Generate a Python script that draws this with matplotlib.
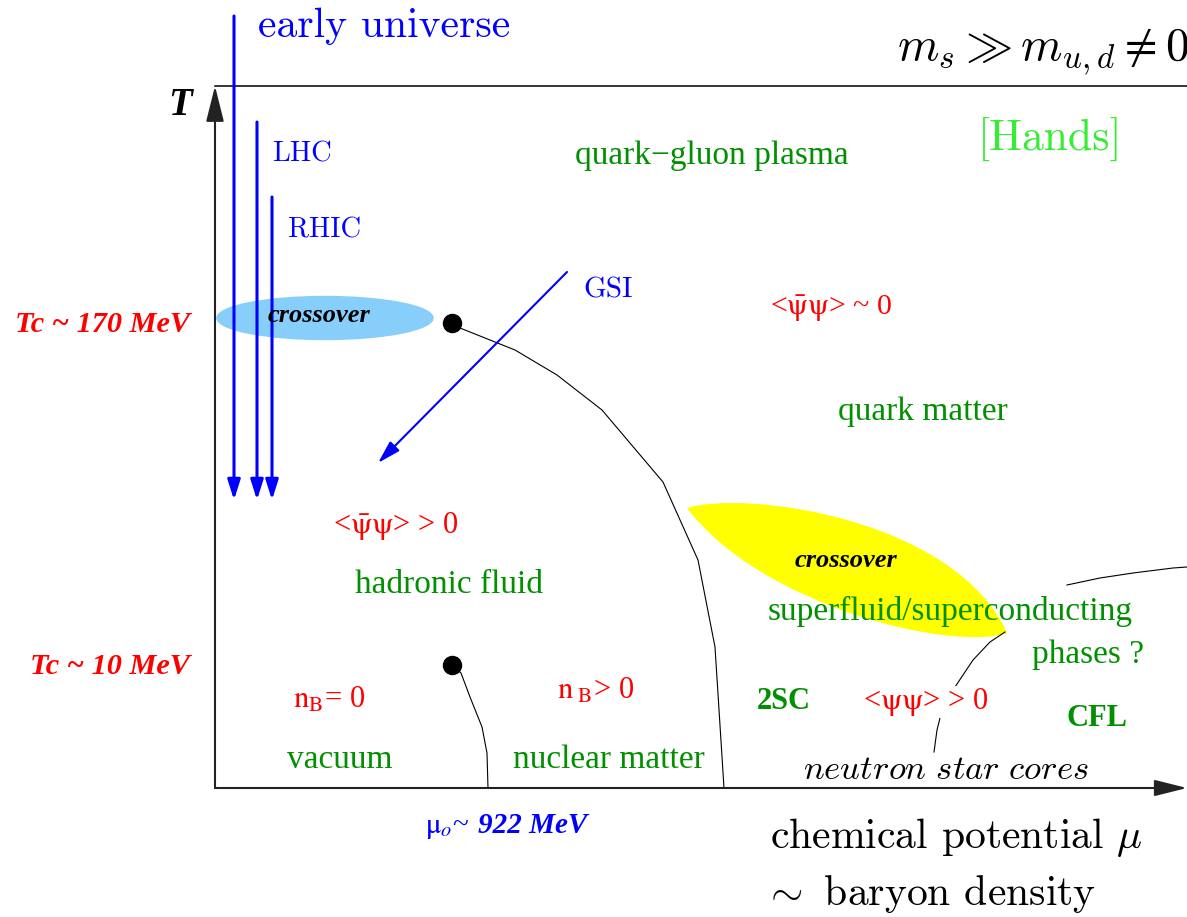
import matplotlib
matplotlib.use("Agg")
import matplotlib.pyplot as plt
from matplotlib.patches import Ellipse, PathPatch
from matplotlib.path import Path

# --- diagram data (picture coordinates, y grows downwards) ---
W, H = 1187, 917
origin = (215, 788)
t_top = 86
x_right = 1187

# beam arrows (x, start y), all end at y=500
beams_x = [234, 257, 272]
beams_top = [16, 122, 197]
beams_end = 500

gsi_from = (567, 272)
gsi_to = (378, 463)

crit_pts = [(452, 323), (452, 665)]

main_line_x = [452, 460, 515, 557, 602, 663, 698, 715, 724]
main_line_y = [323, 328, 350, 375, 410, 482, 560, 647, 788]

nuc_line_x = [452, 461, 470, 482, 487, 488]
nuc_line_y = [665, 673, 697, 727, 753, 788]

csc_line_x = [1005, 990, 973, 953, 942, 937, 934]
csc_line_y = [632, 642, 660, 690, 710, 730, 752]

cfl_line_x = [1067, 1100, 1133, 1173, 1187]
cfl_line_y = [585, 578, 573, 568, 567]

# yellow lens: left tip, top bezier controls, right tip, bottom bezier controls
yellow_ctrl = [(687, 508), (745, 490), (955, 518), (1007, 633),
               (950, 652), (760, 605), (687, 508)]

blue_ell_center = (325, 318)
blue_ell_size = (216, 43)

GREEN = '#009000'

plt.rcParams['font.family'] = ['Liberation Serif', 'DejaVu Serif']

fig = plt.figure(figsize=(W / 100, H / 100), dpi=100)
ax = fig.add_axes([0, 0, 1, 1])
ax.set_xlim(0, W)
ax.set_ylim(H, 0)
ax.axis('off')

# regions
ax.add_patch(Ellipse(blue_ell_center, *blue_ell_size, color='#87cefa', zorder=1))
lens = Path(yellow_ctrl + [yellow_ctrl[0]],
            [Path.MOVETO] + [Path.CURVE4] * 6 + [Path.CLOSEPOLY])
ax.add_patch(PathPatch(lens, color='#ffff00', lw=0, zorder=1))

# frame / axes
ax.plot([origin[0], x_right], [t_top, t_top], color='black', lw=1.1, zorder=2)
ax.annotate('', xy=(origin[0], t_top), xytext=origin,
            arrowprops=dict(arrowstyle='-|>,head_length=2.2,head_width=0.55',
                            mutation_scale=10, color='#222222', lw=1.5,
                            shrinkA=0, shrinkB=0), zorder=3)
ax.annotate('', xy=(x_right, origin[1]), xytext=origin,
            arrowprops=dict(arrowstyle='-|>,head_length=2.0,head_width=0.5',
                            mutation_scale=10, color='#222222', lw=1.5,
                            shrinkA=0, shrinkB=0), zorder=3)

# phase lines
for lx, ly in [(main_line_x, main_line_y), (nuc_line_x, nuc_line_y),
               (csc_line_x, csc_line_y), (cfl_line_x, cfl_line_y)]:
    ax.plot(lx, ly, color='black', lw=0.8, zorder=2)
ax.plot([p[0] for p in crit_pts], [p[1] for p in crit_pts], 'o',
        color='black', ms=13, zorder=4)

# beams
for bx, by in zip(beams_x, beams_top):
    ax.annotate('', xy=(bx, beams_end), xytext=(bx, by),
                arrowprops=dict(arrowstyle='-|>,head_length=1.2,head_width=0.38',
                                mutation_scale=10, color='blue', lw=2.2,
                                shrinkA=0, shrinkB=0), zorder=5)
ax.annotate('', xy=gsi_to, xytext=gsi_from,
            arrowprops=dict(arrowstyle='-|>,head_length=1.4,head_width=0.4',
                            mutation_scale=10, color='blue', lw=1.5,
                            shrinkA=0, shrinkB=0), zorder=5)

# texts
def txt(x, y, s, **kw):
    kw.setdefault('va', 'baseline')
    kw.setdefault('ha', 'left')
    ax.text(x, y, s, zorder=6, **kw)

txt(258, 37, 'early universe', family='cmr10', fontsize=30, color='blue')
txt(1189, 60, r'$m_s \gg m_{u,d} \neq 0$', math_fontfamily='cm',
    fontsize=34, color='black', ha='right')
txt(168, 115, 'T', fontsize=28, weight='bold', style='italic')
txt(272, 162, 'LHC', family='cmr10', fontsize=20.5, color='blue')
txt(288, 237, 'RHIC', family='cmr10', fontsize=20.5, color='blue')
txt(583, 298, 'GSI', family='cmr10', fontsize=21, color='blue')
txt(978, 150, '[Hands]', family='cmr10', fontsize=31.5, color='#33ee33')
txt(575, 164, 'quark\u2212gluon plasma', fontsize=24, color=GREEN)

txt(15, 332, 'Tc ~ 170 MeV', fontsize=21.8, weight='bold', style='italic', color='red')
txt(30, 674, 'Tc ~ 10 MeV', fontsize=21.8, weight='bold', style='italic', color='red')
txt(268, 322, 'crossover', fontsize=19, weight='bold', style='italic')
txt(795, 567, 'crossover', fontsize=19, weight='bold', style='italic')

txt(770, 315, '<' + r'$\bar{\mathrm{\psi}}\mathrm{\psi}$' + '> ~ 0',
    math_fontfamily='stix', fontsize=21.5, color='red')
txt(838, 420, 'quark matter', fontsize=24, color=GREEN)
txt(333, 533, '<' + r'$\bar{\mathrm{\psi}}\mathrm{\psi}$' + '> > 0',
    math_fontfamily='stix', fontsize=22, color='red')
txt(355, 593, 'hadronic fluid', fontsize=24, color=GREEN)
txt(768, 620, 'superfluid/superconducting', fontsize=24, color=GREEN)
txt(1032, 663, 'phases ?', fontsize=24, color=GREEN)
txt(1067, 726, 'CFL', fontsize=22, weight='bold', color=GREEN)
txt(757, 709, '2SC', fontsize=22, weight='bold', color=GREEN)
txt(863, 709, '<' + r'$\mathrm{\psi}\mathrm{\psi}$' + '> > 0',
    math_fontfamily='stix', fontsize=22, color='red',
    bbox=dict(fc='white', ec='none', pad=0))
txt(293, 708, r'$\mathrm{n}_{\mathrm{B}}$= 0', math_fontfamily='stix',
    fontsize=22, color='red')
txt(557, 699, r'$\mathrm{n}_{\ \mathrm{B}}$> 0', math_fontfamily='stix',
    fontsize=22, color='red')
txt(287, 768, 'vacuum', fontsize=24, color=GREEN)
txt(513, 768, 'nuclear matter', fontsize=24, color=GREEN)
txt(803, 779, r'$\mathit{neutron\ star\ cores}$', math_fontfamily='cm',
    fontsize=25)

txt(425, 833, r'$\mathrm{\mu}_{o}$~', math_fontfamily='stix',
    fontsize=21, color='blue')
txt(478, 833, '922 MeV', fontsize=21, weight='bold', style='italic', color='blue')
txt(770, 848, r'chemical potential $\mu$', family='cmr10',
    math_fontfamily='cm', fontsize=30)
txt(763, 905, r'$\sim$ baryon density', family='cmr10',
    math_fontfamily='cm', fontsize=30)

fig.savefig('out.png', dpi=100)
